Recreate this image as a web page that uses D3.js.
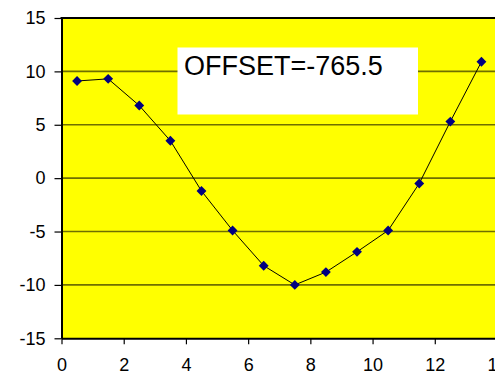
<!DOCTYPE html>
<html>
<head>
<meta charset="utf-8">
<script src="https://cdn.jsdelivr.net/npm/d3@7"></script>
<style>
  html, body { margin: 0; padding: 0; background: #fff; }
  svg { display: block; }
  text { font-family: Arial, "Liberation Sans", sans-serif; }
</style>
</head>
<body>
<svg id="chart" width="495" height="380"></svg>
<script>
// Sample positions and measured values
const xValues = [0.5, 1.5, 2.5, 3.5, 4.5, 5.5, 6.5, 7.5, 8.5, 9.5, 10.5, 11.5, 12.5, 13.5];
const yValues = [9.1, 9.3, 6.8, 3.5, -1.2, -4.9, -8.2, -10.0, -8.8, -6.9, -4.9, -0.5, 5.3, 10.9];
const xTicks = [0, 2, 4, 6, 8, 10, 12, 14];
const yTicks = [-15, -10, -5, 0, 5, 10, 15];
const offsetLabel = "OFFSET=-765.5";

const svg = d3.select("#chart");
const plotLeft = 61.5, plotTop = 18, plotBottom = 338.3, plotRight = 497;

const x = d3.scaleLinear().domain([0, 14]).range([plotLeft, plotRight]);
const y = d3.scaleLinear().domain([-15, 15]).range([plotBottom, plotTop]);

// Plain hyphen-minus tick labels
const plainFormat = d => String(d);

// Plot background
svg.append("rect")
  .attr("x", plotLeft).attr("y", plotTop)
  .attr("width", plotRight - plotLeft).attr("height", plotBottom - plotTop)
  .attr("fill", "#ffff00");

// Horizontal gridlines
svg.append("g").selectAll("line")
  .data(yTicks.filter(d => d > -15 && d < 15))
  .join("line")
  .attr("x1", plotLeft).attr("x2", plotRight)
  .attr("y1", d => y(d)).attr("y2", d => y(d))
  .attr("stroke", "#6e6e00").attr("stroke-width", 1.6);

// Top border
svg.append("line")
  .attr("x1", plotLeft - 1).attr("x2", plotRight)
  .attr("y1", y(15)).attr("y2", y(15))
  .attr("stroke", "#000").attr("stroke-width", 2);

// Annotation box
svg.append("rect")
  .attr("x", 177.5).attr("y", 47.5)
  .attr("width", 240.5).attr("height", 67)
  .attr("fill", "#fff");
svg.append("text")
  .attr("x", 184).attr("y", 74.5)
  .attr("font-size", 27)
  .attr("fill", "#000")
  .text(offsetLabel);

// Data line and markers
const line = d3.line().x((d, i) => x(xValues[i])).y(d => y(d));
svg.append("path")
  .datum(yValues)
  .attr("d", line)
  .attr("fill", "none")
  .attr("stroke", "#000")
  .attr("stroke-width", 1);

const diamond = d3.symbol().type(d3.symbolDiamond2).size(62);
svg.append("g").selectAll("path")
  .data(yValues)
  .join("path")
  .attr("d", diamond)
  .attr("transform", (d, i) => `translate(${x(xValues[i])},${y(d)})`)
  .attr("fill", "#000080");

// Y axis
const yAxis = svg.append("g")
  .attr("transform", `translate(${plotLeft},0)`)
  .call(d3.axisLeft(y).tickValues(yTicks).tickFormat(plainFormat)
    .tickSize(7).tickPadding(9).tickSizeOuter(0));
yAxis.select(".domain").attr("stroke", "#000").attr("stroke-width", 2);
yAxis.selectAll(".tick line").attr("stroke", "#000").attr("stroke-width", 1.2);
yAxis.selectAll(".tick text").attr("font-size", 18).attr("fill", "#000")
  .attr("font-family", "Arial, 'Liberation Sans', sans-serif");

// X axis
const xAxis = svg.append("g")
  .attr("transform", `translate(0,${plotBottom})`)
  .call(d3.axisBottom(x).tickValues(xTicks).tickFormat(plainFormat)
    .tickSize(6).tickPadding(14).tickSizeOuter(0));
xAxis.select(".domain").attr("stroke", "#000").attr("stroke-width", 2);
xAxis.selectAll(".tick line").attr("stroke", "#000").attr("stroke-width", 1.2);
xAxis.selectAll(".tick text").attr("font-size", 18).attr("fill", "#000")
  .attr("font-family", "Arial, 'Liberation Sans', sans-serif");
</script>
</body>
</html>
